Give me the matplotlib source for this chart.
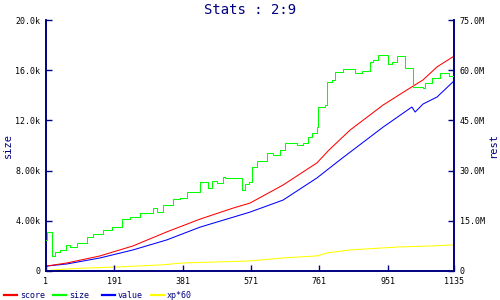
import matplotlib
matplotlib.use("Agg")
import matplotlib.pyplot as plt
from matplotlib.lines import Line2D

# ---- data ----
size_x = [1, 5, 18, 26, 40, 57, 68, 87, 115, 132, 159, 184, 212, 234, 262, 298, 310, 326, 354, 373,
          393, 429, 448, 451, 462, 476, 493, 498, 540, 546, 554, 565, 574, 587, 615, 632, 651, 665,
          687, 699, 715, 729, 740, 754, 757, 776, 782, 796, 804, 826, 854, 860, 874, 879, 902, 910,
          924, 949, 952, 963, 977, 996, 999, 1018, 1021, 1049, 1055, 1074, 1088, 1096, 1118, 1121, 1135]
size_y = [2500, 3100, 1200, 1510, 1670, 2070, 1910, 2230, 2710, 2950, 3270, 3510, 4140, 4300, 4620,
          5020, 4700, 5260, 5740, 5820, 6290, 7090, 7090, 6610, 7170, 7010, 7490, 7410, 7410, 6450,
          6930, 7090, 8290, 8760, 9400, 9240, 9640, 10200, 10200, 10040, 10200, 10680, 11000, 11470,
          13070, 13230, 15060, 15220, 15860, 16100, 16100, 15780, 15780, 15940, 16650, 16810, 17210,
          17210, 16490, 16650, 17130, 17130, 16170, 16170, 14660, 14580, 14980, 15380, 15380, 15780,
          15780, 15540, 15460]

score_x = [1, 4, 59, 151, 243, 337, 429, 521, 568, 660, 754, 788, 846, 938, 1013, 1049, 1088, 1135]
score_y = [1.0e6, 1.5e6, 2.4e6, 4.5e6, 7.5e6, 11.7e6, 15.5e6, 18.8e6, 20.3e6, 25.7e6, 32.3e6, 36.2e6,
           42.1e6, 49.6e6, 54.7e6, 57.1e6, 61.0e6, 64.2e6]

value_x = [1, 4, 59, 151, 243, 337, 429, 568, 660, 754, 818, 938, 1018, 1027, 1049, 1088, 1135]
value_y = [1.0e6, 1.5e6, 2.1e6, 3.9e6, 6.3e6, 9.3e6, 13.1e6, 17.6e6, 21.2e6, 27.8e6, 33.2e6, 43.0e6,
           49.0e6, 47.5e6, 49.9e6, 52.0e6, 56.8e6]

xp_x = [1, 59, 115, 198, 318, 382, 476, 568, 660, 754, 782, 846, 938, 985, 1077, 1135]
xp_y = [0.1e6, 0.6e6, 0.9e6, 1.2e6, 1.8e6, 2.4e6, 2.7e6, 3.0e6, 3.9e6, 4.5e6, 5.4e6, 6.3e6, 6.9e6,
        7.2e6, 7.5e6, 7.8e6]

x_ticks = [1, 191, 381, 571, 761, 951, 1135]
left_ticks = [0, 4000, 8000, 12000, 16000, 20000]
left_labels = ["0", "4.00k", "8.00k", "12.0k", "16.0k", "20.0k"]
right_ticks = [0, 15e6, 30e6, 45e6, 60e6, 75e6]
right_labels = ["0", "15.0M", "30.0M", "45.0M", "60.0M", "75.0M"]

series_names = ["score", "size", "value", "xp*60"]
series_colors = ["#ff0000", "#00ff00", "#0000ff", "#ffff00"]

NAVY = "#000080"
MONO = "DejaVu Sans Mono"

fig = plt.figure(figsize=(5, 3), dpi=100)
ax = fig.add_axes([46 / 500, 29 / 300, 408 / 500, 251 / 300])
ax2 = ax.twinx()

lw = 0.75
ax.step(size_x, size_y, where="post", color=series_colors[1], lw=lw, zorder=3)
ax2.plot(xp_x, xp_y, color=series_colors[3], lw=lw)
ax2.plot(value_x, value_y, color=series_colors[2], lw=lw)
ax2.plot(score_x, score_y, color=series_colors[0], lw=lw)

ax.set_xlim(1, 1135)
ax.set_ylim(0, 20000)
ax2.set_ylim(0, 75e6)
ax.set_zorder(ax2.get_zorder() + 1)
ax.patch.set_visible(False)

ax.set_xticks(x_ticks)
ax.set_xticklabels([str(t) for t in x_ticks], family=MONO, fontsize=6)
ax.set_yticks(left_ticks)
ax.set_yticklabels(left_labels, family=MONO, fontsize=6)
ax2.set_yticks(right_ticks)
ax2.set_yticklabels(right_labels, family=MONO, fontsize=6)

for a in (ax, ax2):
    a.tick_params(direction="in", length=4, width=1, color=NAVY, labelcolor="black", pad=4)
    for s in a.spines.values():
        s.set_color(NAVY)
        s.set_linewidth(1.2)
    a.spines["top"].set_visible(False)

fig.text(8 / 500, 1 - 145 / 300, "size", family=MONO, fontsize=7.5, color=NAVY,
         rotation=90, ha="center", va="center")
fig.text(493 / 500, 1 - 145 / 300, "rest", family=MONO, fontsize=7.5, color=NAVY,
         rotation=90, ha="center", va="center")
fig.text(0.5, 1 - 10 / 300, "Stats : 2:9", family=MONO, fontsize=10, color=NAVY,
         ha="center", va="center")

# legend
ly = 1 - 295 / 300
starts = [4, 53, 102, 151]
for name, col, x0 in zip(series_names, series_colors, starts):
    fig.add_artist(Line2D([x0 / 500, (x0 + 13) / 500], [ly, ly], color=col, lw=1.6,
                          transform=fig.transFigure))
    fig.text((x0 + 16) / 500, ly, name, family=MONO, fontsize=6, color=NAVY,
             ha="left", va="center")

fig.savefig("out.png", dpi=100)
